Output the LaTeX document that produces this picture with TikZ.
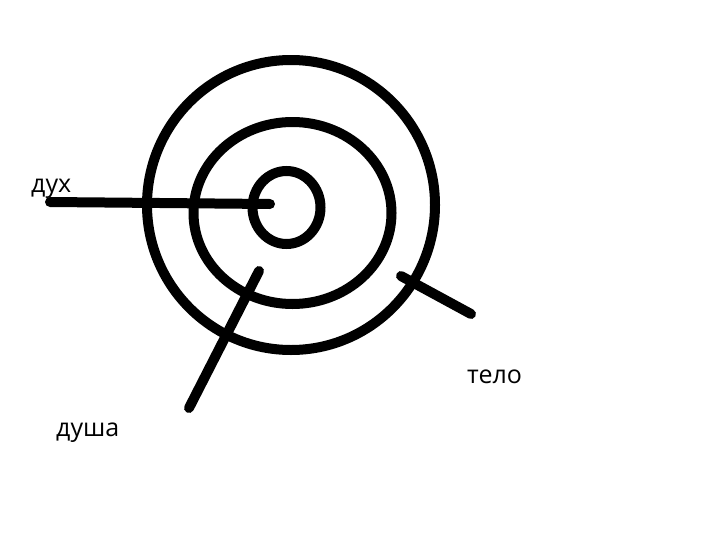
\documentclass[tikz,border=0pt]{standalone}
\usepackage{fontspec}
\setmainfont{Open Sans}
\begin{document}
\begin{tikzpicture}[x=1pt,y=-1pt,
  ring/.style={line width=10pt},
  stroke/.style={line width=10pt,line cap=round},
  lbl/.style={anchor=base west,inner sep=0pt,font=\fontsize{25}{29}\selectfont}]
\useasboundingbox (0,0) rectangle (701,546);
\draw[ring] (291,205) ellipse [x radius=144,y radius=145];
\draw[ring] (292.5,213) ellipse [x radius=99,y radius=91];
\draw[ring] (286.5,207.5) ellipse [x radius=34,y radius=36.5];
\coordinate (a1) at (50,202);
\coordinate (a2) at (270,204);
\coordinate (b1) at (259,271);
\coordinate (b2) at (189,408);
\coordinate (c1) at (401,276);
\coordinate (c2) at (471,314);
\draw[stroke] (a1) -- (a2);
\draw[stroke] (b1) -- (b2);
\draw[stroke] (c1) -- (c2);
\node[lbl] (dukh) at (31,192) {дух};
\node[lbl] (dusha) at (56,436) {душа};
\node[lbl] (telo) at (467,383) {тело};
\end{tikzpicture}
\end{document}
